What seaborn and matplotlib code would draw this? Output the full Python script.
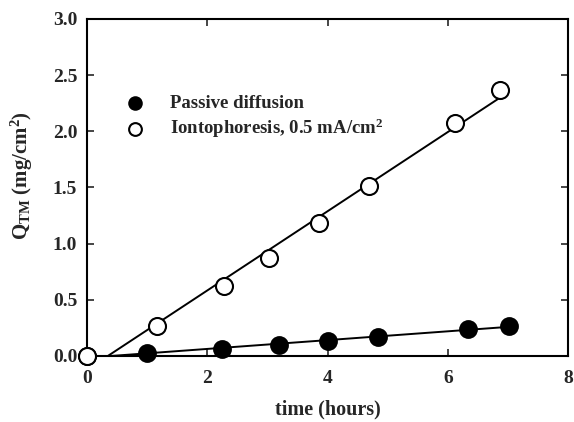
import numpy as np
import pandas as pd
import matplotlib
matplotlib.use('Agg')
import matplotlib.pyplot as plt
import seaborn as sns

# values
passive_time = [0.0, 1.0, 2.25, 3.2, 4.01, 4.84, 6.34, 7.02]
passive_q = [0.0, 0.025, 0.065, 0.10, 0.13, 0.17, 0.24, 0.27]
ionto_time = [0.0, 1.16, 2.27, 3.02, 3.85, 4.69, 6.12, 6.87]
ionto_q = [0.0, 0.27, 0.62, 0.87, 1.18, 1.51, 2.07, 2.37]

sns.set_theme(style='ticks')
plt.rcParams['font.family'] = ['Liberation Serif', 'DejaVu Serif']
plt.rcParams['font.weight'] = 'bold'
plt.rcParams['mathtext.fontset'] = 'custom'
plt.rcParams['mathtext.rm'] = 'Liberation Serif:bold'
plt.rcParams['mathtext.it'] = 'Liberation Serif:bold'
plt.rcParams['mathtext.bf'] = 'Liberation Serif:bold'

fig = plt.figure(figsize=(5.74, 4.22), dpi=100)
ax = fig.add_axes([0.1516, 0.1564, 0.838, 0.7986])


def fit_line(t, q):
    # least-squares line, drawn from its x-intercept to the last point
    t = np.array(t)
    q = np.array(q)
    slope, icpt = np.polyfit(t, q, 1)
    x0 = max(-icpt / slope, 0)
    xs = np.array([x0, t.max()])
    return xs, slope * xs + icpt


for t, q in [(passive_time, passive_q), (ionto_time, ionto_q)]:
    xs, ys = fit_line(t, q)
    sns.lineplot(x=xs, y=ys, ax=ax, color='black', lw=1.4, zorder=2)

sns.scatterplot(x=passive_time, y=passive_q, ax=ax, marker='o', s=150,
                color='black', edgecolor='black', linewidth=1.3, zorder=3,
                label='Passive diffusion', clip_on=False)
sns.scatterplot(x=ionto_time, y=ionto_q, ax=ax, marker='o', s=150,
                color='white', edgecolor='black', linewidth=1.5, zorder=4,
                label='Iontophoresis, 0.5 mA/cm$^2$', clip_on=False)

ax.set_xlim(0, 8)
ax.set_ylim(0, 3.0)
ax.set_xticks([0, 2, 4, 6, 8])
ax.set_yticks(np.arange(0, 3.01, 0.5))
ax.set_yticklabels([f'{v:.1f}' for v in np.arange(0, 3.01, 0.5)])
ax.tick_params(direction='in', length=5, width=1.2, top=True, right=True,
               labelsize=14)
ax.tick_params(axis='x', pad=10)
ax.tick_params(axis='y', pad=7)
for lab in ax.get_xticklabels() + ax.get_yticklabels():
    lab.set_fontweight('bold')
for sp in ax.spines.values():
    sp.set_linewidth(1.5)
    sp.set_color('black')

ax.set_xlabel('time (hours)', fontsize=14.5, fontweight='bold')
ax.set_ylabel('Q$_{TM}$ (mg/cm$^2$)', fontsize=15, fontweight='bold')
ax.xaxis.set_label_coords(0.5, -0.16, transform=ax.transAxes)
ax.yaxis.set_label_coords(-0.135, 0.535, transform=ax.transAxes)
ax.xaxis.label.set_va('center')
ax.yaxis.label.set_va('center')

leg = ax.legend(loc='upper left', bbox_to_anchor=(0.06, 0.798), frameon=False,
                prop={'size': 13.5, 'weight': 'bold'}, handletextpad=1.3,
                handlelength=1.2, markerscale=0.75,
                labelspacing=0.28, borderaxespad=0)

fig.savefig('out.png', dpi=100)
